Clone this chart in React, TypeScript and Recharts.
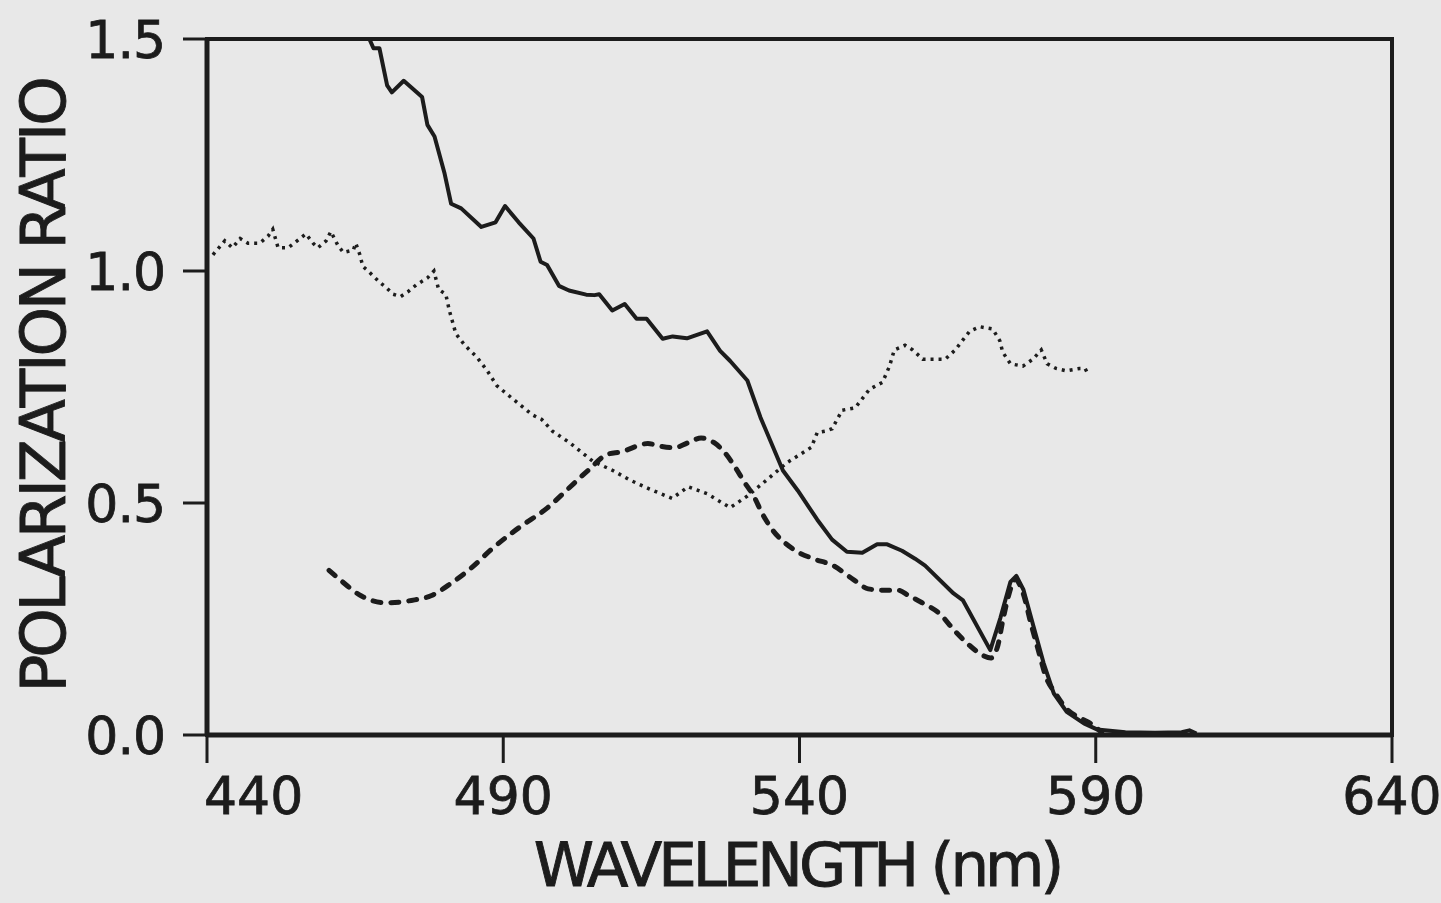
import React from 'react';
import { LineChart, Line, XAxis, YAxis, ReferenceArea } from 'recharts';

// ---- tick labels ----
const xTicks = [440, 490, 540, 590, 640];
const yTicks = [0, 0.5, 1.0, 1.5];

// ---- solid curve ----
const solidWavelengths = [
  467.4, 468.1, 469.1, 470.4, 471.2, 473.2, 475.4, 476.3, 477.2, 478.4, 480.1, 481.2, 482.9, 486.3,
  488.7, 490.3, 492.6, 495.1, 496.3, 497.4, 499.4, 501.1, 504.0, 505.4, 506.2, 508.4, 510.5, 512.5,
  514.2, 516.9, 518.6, 521.0, 524.4, 526.6, 528.3, 531.2, 533.4, 537.2, 539.7, 543.0, 545.5, 548.0,
  550.6, 553.1, 554.8, 557.3, 559.5, 561.2, 566.0, 567.6, 572.2, 573.9, 575.6, 576.6, 577.8, 579.5,
  581.2, 582.9, 585.1, 588.0, 590.2, 595.0, 600.0, 604.5, 605.8, 607.0,
];
const solidRatios = [
  1.5, 1.48, 1.48, 1.40, 1.385, 1.41, 1.385, 1.375, 1.315, 1.29, 1.21, 1.145, 1.135, 1.095,
  1.105, 1.14, 1.105, 1.07, 1.02, 1.013, 0.968, 0.958, 0.949, 0.948, 0.95, 0.915, 0.929, 0.897,
  0.897, 0.854, 0.859, 0.855, 0.87, 0.828, 0.806, 0.764, 0.685, 0.57, 0.527, 0.464, 0.421, 0.395,
  0.393, 0.411, 0.411, 0.397, 0.38, 0.365, 0.305, 0.29, 0.183, 0.252, 0.33, 0.343, 0.313, 0.234,
  0.155, 0.09, 0.05, 0.025, 0.012, 0.006, 0.005, 0.006, 0.01, 0.003,
];

// ---- dashed curve ----
const dashedWavelengths = [
  460.6, 462.6, 466.0, 470.2, 474.5, 477.8, 481.2, 484.6, 488.0, 491.4, 493.0, 497.5, 500.9, 504.3,
  507.6, 509.8, 514.4, 516.6, 518.8, 521.2, 523.4, 525.6, 527.3, 529.0, 530.7, 532.4, 533.6, 535.0,
  539.0, 542.3, 545.7, 549.1, 551.6, 554.1, 556.6, 558.5, 560.7, 563.6, 566.3, 568.7, 570.9, 572.3,
  573.5, 574.3, 575.2, 576.4, 577.8, 579.1, 580.3, 581.6, 583.2, 585.1, 587.5, 589.7, 591.0,
];
const dashedRatios = [
  0.355, 0.333, 0.30, 0.285, 0.29, 0.30, 0.327, 0.36, 0.40, 0.435, 0.45, 0.49, 0.53, 0.57,
  0.605, 0.61, 0.628, 0.622, 0.619, 0.63, 0.64, 0.63, 0.61, 0.58, 0.545, 0.512, 0.48, 0.45,
  0.40, 0.38, 0.365, 0.335, 0.315, 0.312, 0.312, 0.30, 0.285, 0.262, 0.223, 0.193, 0.172, 0.166,
  0.194, 0.246, 0.296, 0.335, 0.303, 0.238, 0.183, 0.125, 0.09, 0.056, 0.036, 0.02, 0.005,
];

// ---- dotted curve ----
const dottedWavelengths = [
  441.0, 442.0, 443.0, 444.3, 445.6, 446.9, 448.9, 450.3, 451.1, 452.0, 453.7, 455.7, 456.7, 457.9,
  458.7, 460.1, 460.9, 462.1, 463.0, 464.7, 465.1, 465.8, 466.3, 467.2, 468.0, 469.2, 470.2, 471.4,
  472.7, 473.9, 475.3, 477.2, 478.3, 479.1, 480.3, 480.9, 482.0, 483.5, 485.5, 487.3, 488.9, 490.5,
  493.0, 494.9, 496.5, 498.3, 501.2, 505.1, 508.5, 511.3, 514.7, 518.5, 521.2, 524.4, 528.3, 531.2,
  534.5, 537.9, 542.0, 543.0, 544.4, 545.5, 547.2, 549.4, 551.8, 554.0, 555.2, 556.0, 557.8, 559.1,
  560.8, 562.4, 564.6, 566.3, 568.7, 570.4, 572.6, 573.8, 574.3, 575.6, 577.7, 579.4, 580.8, 581.8,
  583.3, 585.0, 587.3, 588.2, 588.8,
];
const dottedRatios = [
  1.035, 1.05, 1.065, 1.05, 1.07, 1.06, 1.06, 1.075, 1.09, 1.05, 1.05, 1.07, 1.08, 1.06,
  1.05, 1.065, 1.085, 1.055, 1.04, 1.045, 1.06, 1.035, 1.01, 1.0, 0.99, 0.975, 0.965, 0.95,
  0.945, 0.955, 0.97, 0.985, 1.0, 0.96, 0.95, 0.915, 0.865, 0.84, 0.815, 0.785, 0.753, 0.736,
  0.71, 0.69, 0.68, 0.655, 0.63, 0.59, 0.57, 0.55, 0.53, 0.51, 0.535, 0.52, 0.49, 0.515,
  0.55, 0.587, 0.62, 0.652, 0.655, 0.66, 0.70, 0.705, 0.745, 0.76, 0.795, 0.83, 0.84, 0.83,
  0.81, 0.81, 0.81, 0.83, 0.87, 0.88, 0.875, 0.85, 0.825, 0.80, 0.795, 0.81, 0.83, 0.80,
  0.79, 0.785, 0.79, 0.79, 0.775,
];

const toPoints = (xs: number[], ys: number[]) => xs.map((x, i) => ({ x, y: ys[i] }));
const solidData = toPoints(solidWavelengths, solidRatios);
const dashedData = toPoints(dashedWavelengths, dashedRatios);
const dottedData = toPoints(dottedWavelengths, dottedRatios);

const INK = '#1c1c1c';
const FONT = '"DejaVu Sans", sans-serif';

const XTick = (props: any) => {
  const { x, y, payload } = props;
  const first = payload.value === 440;
  return (
    <text
      x={first ? x - 3 : x}
      y={y}
      dy={37}
      textAnchor={first ? 'start' : 'middle'}
      fill={INK}
      stroke={INK}
      strokeWidth={0.8}
      fontSize={52}
      fontFamily={FONT}
    >
      {payload.value}
    </text>
  );
};

const YTick = (props: any) => {
  const { x, y, payload } = props;
  return (
    <text
      x={x}
      y={y}
      dy={19}
      textAnchor="end"
      fill={INK}
      stroke={INK}
      strokeWidth={0.8}
      fontSize={52}
      fontFamily={FONT}
      letterSpacing={-1}
    >
      {Number(payload.value).toFixed(1)}
    </text>
  );
};

export default function App() {
  return (
    <div
      style={{
        position: 'absolute',
        left: 0,
        top: 0,
        width: 1441,
        height: 903,
        background: '#e8e8e8',
        overflow: 'hidden',
      }}
    >
      <LineChart width={1441} height={903} margin={{ top: 39, right: 49, bottom: 0, left: 0 }}>
        <XAxis
          type="number"
          dataKey="x"
          domain={[440, 640]}
          ticks={xTicks}
          allowDataOverflow
          height={168}
          tickSize={28}
          tickMargin={14}
          tick={<XTick />}
          tickLine={{ stroke: INK, strokeWidth: 3 }}
          axisLine={{ stroke: INK, strokeWidth: 5 }}
          label={{
            content: () => (
              <text
                x={797}
                y={886}
                textAnchor="middle"
                fill={INK}
                stroke={INK}
                strokeWidth={0.9}
                fontSize={61}
                fontFamily={FONT}
                letterSpacing={-4}
              >
                WAVELENGTH (nm)
              </text>
            ),
          }}
        />
        <YAxis
          type="number"
          dataKey="y"
          domain={[0, 1.5]}
          ticks={yTicks}
          allowDataOverflow
          width={207}
          tickSize={24}
          tickMargin={18}
          tick={<YTick />}
          tickLine={{ stroke: INK, strokeWidth: 3 }}
          axisLine={{ stroke: INK, strokeWidth: 5 }}
          label={{
            content: () => (
              <text
                x={65}
                y={386}
                transform="rotate(-90, 65, 386)"
                textAnchor="middle"
                fill={INK}
                stroke={INK}
                strokeWidth={0.9}
                fontSize={63}
                fontFamily={FONT}
                letterSpacing={-3.2}
              >
                POLARIZATION RATIO
              </text>
            ),
          }}
        />
        <ReferenceArea
          x1={440}
          x2={640}
          y1={0}
          y2={1.5}
          fill="none"
          fillOpacity={0}
          stroke={INK}
          strokeWidth={4}
          ifOverflow="visible"
        />
        <Line
          data={dottedData}
          dataKey="y"
          type="linear"
          stroke={INK}
          strokeWidth={3.5}
          strokeDasharray="3 5"
          dot={false}
          activeDot={false}
          isAnimationActive={false}
        />
        <Line
          data={dashedData}
          dataKey="y"
          type="monotone"
          stroke={INK}
          strokeWidth={5}
          strokeDasharray="8 10"
          strokeLinecap="round"
          dot={false}
          activeDot={false}
          isAnimationActive={false}
        />
        <Line
          data={solidData}
          dataKey="y"
          type="linear"
          stroke={INK}
          strokeWidth={4}
          strokeLinejoin="round"
          dot={false}
          activeDot={false}
          isAnimationActive={false}
        />
      </LineChart>
    </div>
  );
}
